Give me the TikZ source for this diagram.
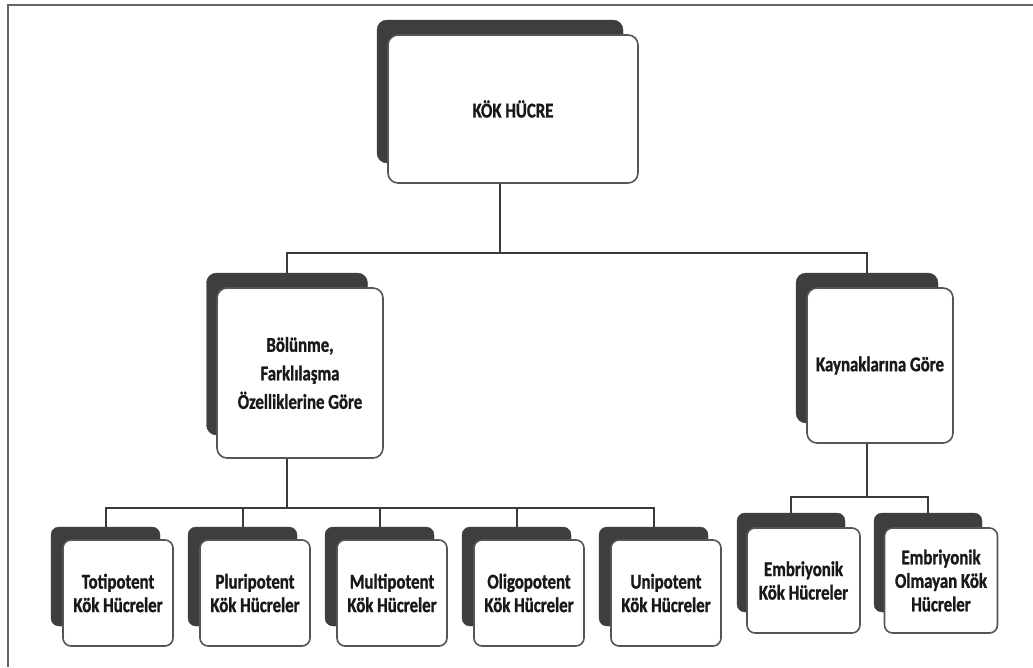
\documentclass[tikz,border=0pt]{standalone}
\usepackage{fontspec}
\setmainfont{Carlito}[FakeStretch=0.8,FakeBold=1.2]
\definecolor{shadowgray}{HTML}{3E3E3E}
\definecolor{linegray}{HTML}{3A3A3A}
\definecolor{bordergray}{HTML}{555555}
\definecolor{framegray}{HTML}{666666}
\begin{document}
\begin{tikzpicture}[x=1pt,y=-1pt,
  shadowbox/.style={draw=shadowgray,fill=shadowgray,rounded corners=10pt,inner sep=0pt},
  frontbox/.style={draw=bordergray,line width=1.6pt,fill=white,rounded corners=10pt,inner sep=0pt,
     align=center,text=black!90,font=\bfseries\fontsize{21}{23.5}\selectfont},
  smallfront/.style={frontbox,rounded corners=8pt},
  smallshadow/.style={shadowbox,rounded corners=8pt},
  conn/.style={draw=linegray,line width=2pt}]
\useasboundingbox (0,0) rectangle (1033,667);
\draw[framegray,line width=2.8pt] (8,667) -- (8,5) -- (1033,5);

% top
\node[shadowbox,minimum width=246pt,minimum height=143pt] (kS) at (500,91.5) {};
\node[frontbox,minimum width=250pt,minimum height=148pt] (kF) at (513,109) {KÖK HÜCRE};

% middle
\node[shadowbox,minimum width=161pt,minimum height=162pt] (bS) at (287,354) {};
\node[frontbox,minimum width=166pt,minimum height=170pt,font=\bfseries\fontsize{21}{28.5}\selectfont] (bF) at (300,373) {Bölünme,\\Farklılaşma\\Özelliklerine Göre};
\node[shadowbox,minimum width=142pt,minimum height=150pt] (yS) at (867,348) {};
\node[frontbox,minimum width=146pt,minimum height=155pt] (yF) at (880,365.5) {Kaynaklarına Göre};

% bottom left
\foreach \i/\t in {0/Totipotent,1/Pluripotent,2/Multipotent,3/Oligopotent,4/Unipotent}{
  \node[smallshadow,minimum width=109pt,minimum height=99pt] (s\i) at (105.5+137*\i,576.5) {};
  \node[smallfront,minimum width=110pt,minimum height=106pt] (f\i) at (118+137*\i,593) {\t\\Kök Hücreler};
}
% bottom right
\node[smallshadow,minimum width=108pt,minimum height=99pt] (eS) at (791,562.5) {};
\node[smallfront,minimum width=113pt,minimum height=105pt] (eF) at (803.5,580.5) {Embriyonik\\Kök Hücreler};
\node[smallshadow,minimum width=108pt,minimum height=99pt] (oS) at (928,562.5) {};
\node[smallfront,minimum width=113pt,minimum height=105pt] (oF) at (941,580.5) {Embriyonik\\Olmayan Kök\\Hücreler};

% connectors level 1
\coordinate (j1) at (500,253);
\draw[conn] (kF.south -| kS.center) -- (j1);
\draw[conn] (bS.north) -- (bS.north |- j1) -- (yS.north |- j1) -- (yS.north);

% connectors left group
\coordinate (j2) at (287,508);
\draw[conn] (bF.south -| bS.center) -- (j2);
\draw[conn] (s0.north) -- (s0.north |- j2) -- (s4.north |- j2) -- (s4.north);
\foreach \i in {1,2,3}{ \draw[conn] (s\i.north |- j2) -- (s\i.north); }

% connectors right group
\coordinate (j3) at (867,497);
\draw[conn] (yF.south -| yS.center) -- (j3);
\draw[conn] (eS.north) -- (eS.north |- j3) -- (oS.north |- j3) -- (oS.north);
\end{tikzpicture}
\end{document}
